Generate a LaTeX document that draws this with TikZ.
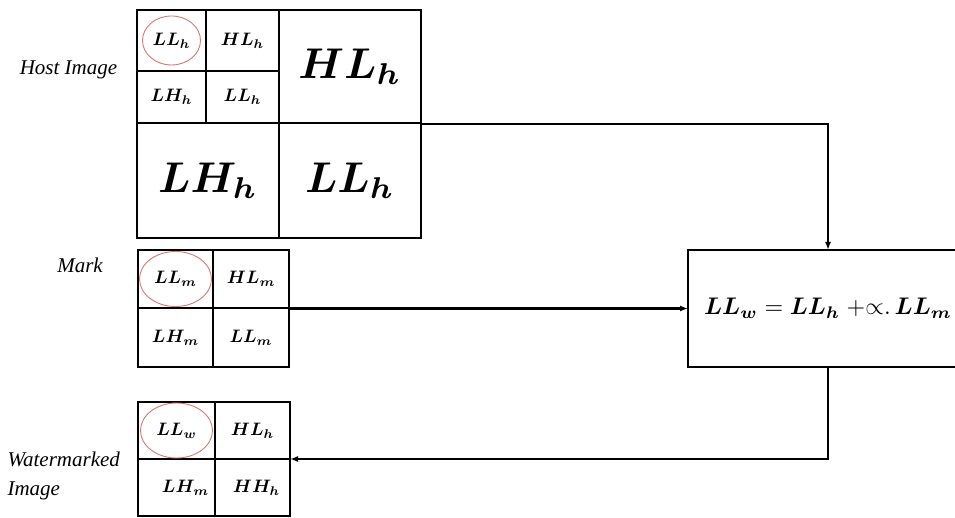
\documentclass[tikz,border=0pt]{standalone}
\usepackage{amsmath}
\usepackage{bm}
\usepackage{graphicx}
\usepackage{fontspec}
\newfontfamily\labelfont{Liberation Serif}
\usepackage{tikz}
\usetikzlibrary{arrows.meta, positioning, fit}
\definecolor{ringred}{RGB}{214,120,115}
\newcommand{\band}[2]{\scalebox{#1}{$\bm{#2}$}}

\begin{document}
\begin{tikzpicture}[
  x=1pt, y=-1pt,
  cell/.style={rectangle, draw, line width=2.8pt, inner sep=0pt, outer sep=0pt,
               align=center},
  grid/.style={inner sep=0pt, outer sep=0pt},
  line/.style={draw, -{Latex[length=8pt,width=6pt]}, line width=2.2pt},
  ring/.style={draw=ringred, line width=0.9pt},
  tag/.style={font=\labelfont\itshape\fontsize{21}{29}\selectfont, align=left}
]
\useasboundingbox (0,0) rectangle (955,518);

% =======================================================
%                     HOST IMAGE
% =======================================================
\node[cell, minimum width=69pt, minimum height=61pt] (h11) at (171.5,40.5) {\band{1.8}{LL_h}};
\node[cell, minimum width=73pt, minimum height=61pt] (h12) at (242.5,40.5) {\band{1.8}{HL_h}};
\node[cell, minimum width=69pt, minimum height=52pt] (h21) at (171.5,97) {\band{1.8}{LH_h}};
\node[cell, minimum width=73pt, minimum height=52pt] (h22) at (242.5,97) {\band{1.8}{LL_h}};
\node[cell, minimum width=142pt, minimum height=113pt] (hTR) at (350,66.5) {\band{4.3}{HL_h}};
\node[cell, minimum width=142pt, minimum height=115pt] (hBL) at (208,180.5) {\band{4.3}{LH_h}};
\node[cell, minimum width=142pt, minimum height=115pt] (hBR) at (350,180.5) {\band{4.3}{LL_h}};
\node[grid, fit=(h11)(hBR)] (host) {};
\draw[ring] (h11.center) ellipse [x radius=29pt, y radius=24.5pt];
\node[tag] (hostlbl) at (68.5,70) {Host Image};

% =======================================================
%                     MARK
% =======================================================
\node[cell, minimum width=75pt, minimum height=58pt] (m11) at (175.5,279) {\band{1.8}{LL_m}};
\node[cell, minimum width=76pt, minimum height=58pt] (m12) at (251,279) {\band{1.8}{HL_m}};
\node[cell, minimum width=75pt, minimum height=59pt] (m21) at (175.5,337.5) {\band{1.8}{LH_m}};
\node[cell, minimum width=76pt, minimum height=59pt] (m22) at (251,337.5) {\band{1.8}{LL_m}};
\node[grid, fit=(m11)(m22)] (mark) {};
\draw[ring] (m11.center) ellipse [x radius=36pt, y radius=27.5pt];
\node[tag] (marklbl) at (80,265) {Mark};

% =======================================================
%                     WATERMARKED IMAGE
% =======================================================
\node[cell, minimum width=77pt, minimum height=57pt] (w11) at (176.5,430.5) {\band{1.8}{LL_w}};
\node[cell, minimum width=75pt, minimum height=57pt] (w12) at (252.5,430.5) {\band{1.8}{HL_h}};
\node[cell, minimum width=77pt, minimum height=57pt] (w21) at (176.5,487.5) {\hspace{18pt}\band{1.8}{LH_m}};
\node[cell, minimum width=75pt, minimum height=57pt] (w22) at (252.5,487.5) {\hspace{8pt}\band{1.8}{HH_h}};
\node[grid, fit=(w11)(w22)] (wm) {};
\draw[ring] (w11.center) ellipse [x radius=36pt, y radius=27.5pt];
\node[tag, anchor=west] (wmlbl) at (4,476) {Watermarked\\Image};

% =======================================================
%                     EMBEDDING
% =======================================================
\node[cell, minimum width=280pt, minimum height=117pt] (embed) at (828,308.5)
  {\scalebox{2.4}{$\bm{LL_w} = \bm{LL_h}\;{+}{\propto}.\,\bm{LL_m}$}};

% =======================================================
%                     CONNECTIONS
% =======================================================
\draw[line] (host.east) -| (embed.north);
\draw[line] (mark.east) -- (embed.west);
\draw[line] (embed.south) |- (wm.east);

\end{tikzpicture}
\end{document}
